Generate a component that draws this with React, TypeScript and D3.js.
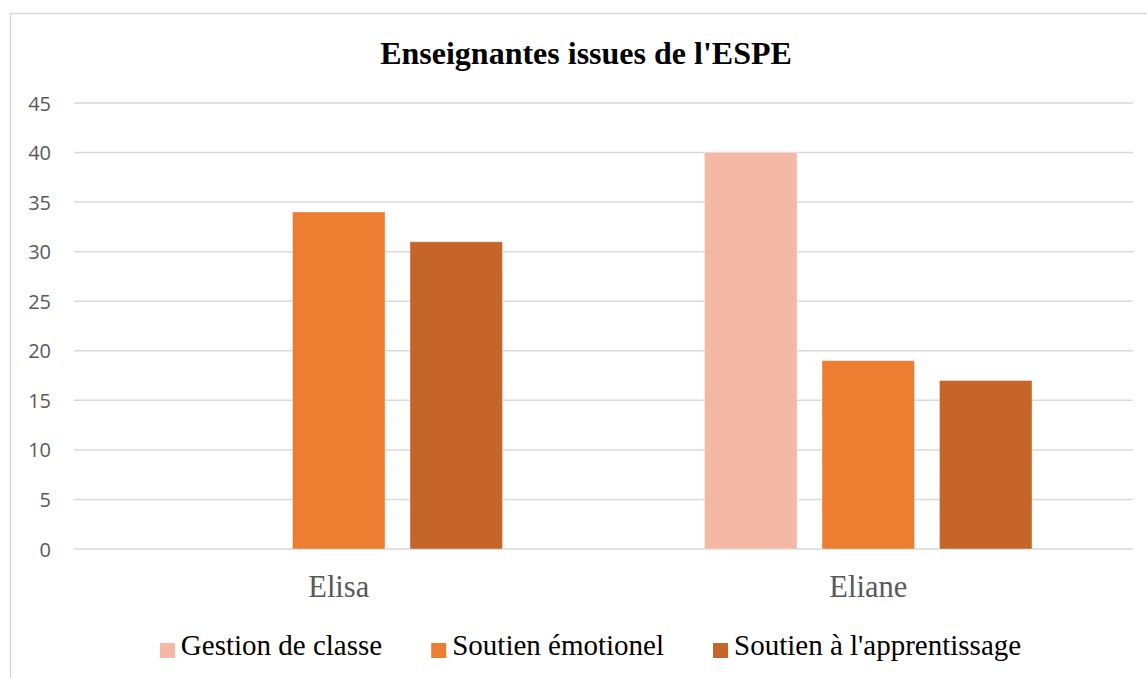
import React, { useEffect, useRef } from "react";
import * as d3 from "d3";

const title = "Enseignantes issues de l'ESPE";
const categories = ["Elisa", "Eliane"];
const seriesNames = ["Gestion de classe", "Soutien émotionel", "Soutien à l'apprentissage"];
const seriesColors = ["#F4B8A4", "#ED7D31", "#C5652A"];
const gestionValues = [0, 40];
const emotionelValues = [34, 19];
const apprentissageValues = [31, 17];
const yTicks = [0, 5, 10, 15, 20, 25, 30, 35, 40, 45];

const W = 1147;
const H = 678;

export default function App() {
  const ref = useRef<SVGSVGElement | null>(null);

  useEffect(() => {
    const svg = d3.select(ref.current);
    svg.selectAll("*").remove();
    const values = [gestionValues, emotionelValues, apprentissageValues];

    const plotL = 74, plotR = 1133, plotT = 103, plotB = 549;

    svg.append("rect").attr("x", 0).attr("y", 0).attr("width", W).attr("height", H).attr("fill", "#fff");
    svg.append("rect")
      .attr("x", 10.5).attr("y", 13.5).attr("width", 1146).attr("height", 700)
      .attr("fill", "#fff").attr("stroke", "#D9D9D9").attr("stroke-width", 1.5);

    const y = d3.scaleLinear().domain([0, 45]).range([plotB, plotT]);
    const x0 = d3.scaleBand<string>().domain(categories).range([plotL, plotR]).paddingInner(0).paddingOuter(0);
    const x1 = d3.scaleBand<string>().domain(seriesNames).range([0, x0.bandwidth()]).paddingInner(0.2128).paddingOuter(0.86);

    // gridlines
    svg.append("g").selectAll("line").data(yTicks).join("line")
      .attr("x1", plotL).attr("x2", plotR)
      .attr("y1", (d) => y(d)).attr("y2", (d) => y(d))
      .attr("stroke", "#D9D9D9").attr("stroke-width", 1.5);

    // y labels
    svg.append("g").selectAll("text").data(yTicks).join("text")
      .attr("x", 51).attr("y", (d) => y(d))
      .attr("text-anchor", "end").attr("dominant-baseline", "central")
      .attr("font-family", "'Open Sans', sans-serif").attr("font-size", 20)
      .attr("fill", "#595959")
      .text((d) => String(d));

    // bars
    const gBars = svg.append("g");
    categories.forEach((cat, ci) => {
      seriesNames.forEach((s, si) => {
        const v = values[si][ci];
        if (v <= 0) return;
        gBars.append("rect")
          .attr("x", (x0(cat) as number) + (x1(s) as number))
          .attr("y", y(v))
          .attr("width", x1.bandwidth())
          .attr("height", y(0) - y(v))
          .attr("fill", seriesColors[si])
          .attr("stroke", "#ffffff").attr("stroke-opacity", 0.35).attr("stroke-width", 1);
      });
    });

    // category labels
    svg.append("g").selectAll("text").data(categories).join("text")
      .attr("x", (d) => (x0(d) as number) + x0.bandwidth() / 2)
      .attr("y", 597)
      .attr("text-anchor", "middle")
      .attr("font-family", "'Liberation Serif', 'Times New Roman', serif").attr("font-size", 30.5)
      .attr("fill", "#595959")
      .text((d) => d);

    // title
    svg.append("text")
      .attr("x", 586).attr("y", 64).attr("text-anchor", "middle")
      .attr("font-family", "'Liberation Serif', 'Times New Roman', serif")
      .attr("font-size", 32).attr("font-weight", "bold").attr("fill", "#000")
      .text(title);

    // legend
    const sq = 15, gapT = 6, spacing = 49;
    const lg = svg.append("g");
    const items = seriesNames.map((name, i) => {
      const g = lg.append("g");
      g.append("rect").attr("x", 0).attr("y", 643).attr("width", sq).attr("height", sq).attr("fill", seriesColors[i]);
      const t = g.append("text")
        .attr("x", sq + gapT).attr("y", 655)
        .attr("font-family", "'Liberation Serif', 'Times New Roman', serif").attr("font-size", 29)
        .attr("fill", "#000").text(name);
      const w = (t.node() as SVGTextElement).getComputedTextLength();
      return { g, w: sq + gapT + w };
    });
    const total = items.reduce((a, b) => a + b.w, 0) + spacing * (items.length - 1);
    let cx = 590.5 - total / 2;
    items.forEach((it) => {
      it.g.attr("transform", `translate(${cx},0)`);
      cx += it.w + spacing;
    });
  }, []);

  return (
    <svg ref={ref} width={W} height={H} style={{ position: "absolute", left: 0, top: 0, display: "block" }} />
  );
}
